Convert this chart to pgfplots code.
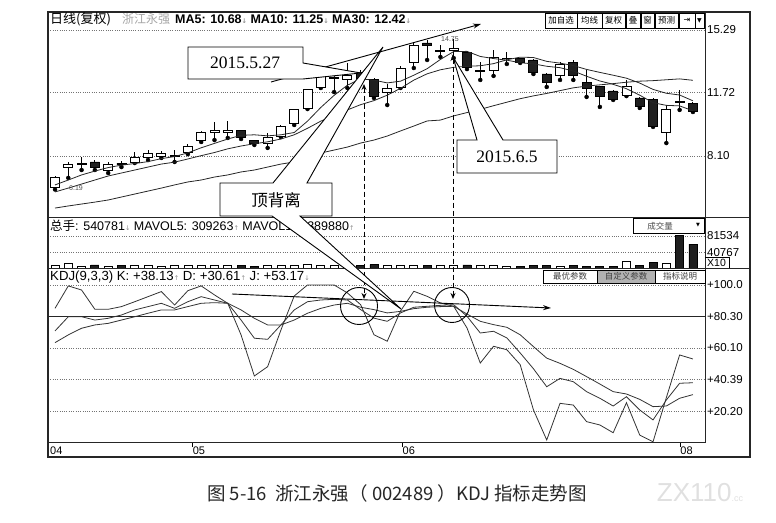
\documentclass[border=0pt]{standalone}
\usepackage{fontspec}
\setmainfont{Liberation Sans}
\newfontfamily\cjk{Noto Sans CJK SC}
\newfontfamily\rmnum{Liberation Serif}
\newfontfamily\dv{DejaVu Sans}
\usepackage{pgfplots}
\pgfplotsset{compat=1.18}
\usepackage{pgfplotstable}
\usetikzlibrary{arrows.meta}

\newcommand\up{{\dv\fontsize{6.5}{6.5}\selectfont\color{black!45}↑}}
\newcommand\dn{{\dv\fontsize{6.5}{6.5}\selectfont\color{black!45}↓}}

\pgfplotstableread{
i o h l c ma5 ma10 ma30
0 6.33 6.96 6.19 6.90 6.45 6.05 5.13
1 7.42 7.76 6.85 7.59 6.73 6.27 5.25
2 7.64 8.04 7.30 7.70 7.02 6.50 5.36
3 7.76 7.87 7.30 7.42 7.24 6.73 5.47
4 7.30 7.76 7.13 7.59 7.44 6.96 5.59
5 7.70 7.82 7.47 7.59 7.58 7.13 5.76
6 7.76 8.33 7.70 8.04 7.67 7.30 5.93
7 8.04 8.44 7.87 8.27 7.78 7.47 6.10
8 8.10 8.39 7.99 8.27 7.95 7.64 6.27
9 8.10 8.44 7.76 8.16 8.07 7.75 6.45
10 8.33 8.79 8.21 8.67 8.28 7.93 6.62
11 8.96 9.53 8.90 9.47 8.57 8.12 6.73
12 9.47 10.04 9.01 9.53 8.82 8.30 6.90
13 9.47 10.10 9.13 9.53 9.07 8.51 7.02
14 9.53 9.58 9.07 9.18 9.28 8.67 7.19
15 8.96 9.01 8.73 8.84 9.31 8.80 7.30
16 8.79 9.41 8.56 9.18 9.25 8.91 7.47
17 9.24 9.87 9.18 9.81 9.31 9.07 7.64
18 9.93 10.78 9.87 10.73 9.44 9.31 7.76
19 10.84 11.92 10.78 11.87 10.09 9.68 7.99
20 12.04 12.84 11.98 12.78 10.87 10.09 8.27
21 12.55 12.84 11.75 12.61 11.56 10.41 8.44
22 12.44 13.41 11.98 12.72 12.14 10.73 8.61
23 12.89 13.01 12.44 12.55 12.50 11.03 8.84
24 12.44 12.55 11.41 11.47 12.43 11.26 9.01
25 11.75 12.21 11.01 11.98 12.27 11.57 9.24
26 12.04 13.24 11.98 13.12 12.37 11.96 9.53
27 13.41 14.61 13.12 14.43 12.71 12.43 9.81
28 14.55 14.72 13.58 14.38 13.08 12.79 10.10
29 14.09 14.43 13.75 14.15 13.61 13.02 10.15
30 14.15 14.75 13.69 14.21 14.06 13.16 10.39
31 14.03 14.09 13.06 13.18 14.07 13.22 10.58
32 12.95 13.46 12.44 13.01 13.78 13.25 10.76
33 13.01 14.15 12.67 13.75 13.66 13.37 10.97
34 13.64 14.03 13.35 13.69 13.57 13.59 11.17
35 13.64 13.69 13.41 13.46 13.42 13.74 11.37
36 13.58 13.64 12.78 12.89 13.36 13.72 11.53
37 12.78 12.84 12.04 12.32 13.22 13.50 11.67
38 12.72 13.46 12.44 13.35 13.14 13.40 11.83
39 13.46 13.58 12.44 12.72 12.95 13.26 11.99
40 12.27 13.01 11.47 11.98 12.65 13.04 12.09
41 12.09 12.09 10.90 11.52 12.38 12.87 12.16
42 11.81 11.87 11.30 11.35 12.19 12.71 12.23
43 11.58 12.44 11.52 12.09 11.94 12.54 12.31
44 11.41 11.47 10.84 10.90 11.57 12.26 12.37
45 11.35 11.41 9.76 9.81 11.14 11.90 12.40
46 9.47 11.01 8.84 10.78 10.99 11.68 12.45
47 11.18 11.87 10.73 11.24 10.96 11.58 12.50
48 11.12 11.18 10.61 10.67 10.68 11.25 12.42
}\price

\pgfplotstableread{
i vu vd
0 8000 nan
1 13000 nan
2 6000 nan
3 nan 9000
4 6000 nan
5 nan 7000
6 8000 nan
7 7000 nan
8 6000 nan
9 7000 nan
10 8000 nan
11 9000 nan
12 8000 nan
13 7000 nan
14 nan 8000
15 nan 6000
16 7000 nan
17 8000 nan
18 9000 nan
19 10000 nan
20 9000 nan
21 8000 nan
22 9000 nan
23 nan 8000
24 nan 10000
25 8000 nan
26 8000 nan
27 9000 nan
28 nan 8000
29 7000 nan
30 8000 nan
31 nan 9000
32 7000 nan
33 8000 nan
34 6000 nan
35 nan 6000
36 nan 7000
37 nan 7000
38 6000 nan
39 nan 7000
40 nan 6000
41 nan 6000
42 nan 6000
43 17000 nan
44 nan 7000
45 nan 15000
46 13000 nan
47 nan 82000
48 nan 61000
}\vol

\pgfplotstableread{
i k d j
0 70.9 63.5 85.2
1 79.9 68.4 99.4
2 79.9 72.6 96.8
3 77.8 74.7 84.6
4 78.9 75.7 84.6
5 81.0 77.8 86.3
6 84.2 79.9 89.4
7 86.3 82.1 92.6
8 88.4 84.2 95.8
9 85.2 84.2 87.3
10 89.4 86.3 96.4
11 92.6 88.4 99.4
12 90.5 88.8 93.7
13 88.4 88.4 88.4
14 77.8 84.2 68.4
15 66.3 78.9 42.4
16 65.6 74.7 48.3
17 74.7 74.7 71.5
18 84.2 77.8 93.0
19 89.4 82.1 100.0
20 90.5 85.2 100.0
21 90.9 87.3 100.0
22 90.5 88.4 95.0
23 84.4 85.9 87.5
24 79.0 84.4 68.5
25 77.0 82.3 64.4
26 82.3 83.3 83.5
27 85.9 85.0 96.0
28 86.5 85.9 92.8
29 87.1 86.3 88.6
30 87.5 86.5 86.5
31 80.2 81.6 72.8
32 69.6 77.0 50.6
33 70.7 74.9 61.2
34 66.5 73.2 59.0
35 57.0 68.5 49.6
36 47.0 61.0 21.0
37 35.6 53.7 1.9
38 40.9 50.4 25.1
39 38.8 46.6 24.0
40 32.5 42.0 13.5
41 28.3 37.3 11.4
42 23.4 32.5 6.5
43 29.3 31.0 25.5
44 20.9 27.6 5.0
45 14.6 23.0 0.8
46 27.2 23.4 28.7
47 37.8 28.3 55.7
48 38.13 30.61 53.17
}\kdj

\pgfplotsset{
  panel/.style={scale only axis, width=657pt, xmin=-0.527, xmax=48.91,
    anchor=south west, axis line style={draw=none}, xtick=\empty, ytick=\empty,
    major tick length=0pt, scaled y ticks=false,
    grid style={black!55, dash pattern=on 0.8pt off 1.5pt, line width=0.5pt},
    yticklabel pos=right,
    yticklabel style={anchor=west, inner sep=0pt, xshift=2pt, font=\fontsize{11.5}{12}\selectfont},
  },
  pricepanel/.style={panel, at={(48pt,304pt)}, height=206pt, ymin=4.563, ymax=16.317},
}

\begin{document}
\begin{tikzpicture}
\useasboundingbox (0pt,0pt) rectangle (776pt,522pt);

% ---------- price panel: wicks, grid, labels
\begin{axis}[pricepanel, ytick={8.10,11.72,15.29}, yticklabels={8.10,11.72,15.29}, ymajorgrids]
\addplot[only marks, mark=none, error bars/.cd, y dir=plus, y explicit,
  error bar style={black, line width=0.9pt}, error mark=none]
  table[x=i, y=l, y error expr=\thisrow{h}-\thisrow{l}] {\price};
\end{axis}

% ---------- price panel: candle bodies
\begin{axis}[pricepanel, ybar stacked, bar width=9pt]
\addplot[draw=none, fill=none] table[x=i, y expr={min(\thisrow{o},\thisrow{c})}] {\price};
\addplot[draw=black, fill=white, line width=0.9pt] table[x=i, y expr={max(\thisrow{c}-\thisrow{o},0)}] {\price};
\addplot[draw=black, fill=black!88, line width=0.9pt] table[x=i, y expr={max(\thisrow{o}-\thisrow{c},0)}] {\price};
\end{axis}

% ---------- price panel: moving averages
\begin{axis}[pricepanel]
\addplot[black!85, line width=0.8pt, mark=none] table[x=i, y=ma5] {\price};
\addplot[black!85, line width=0.8pt, mark=none] table[x=i, y=ma10] {\price};
\addplot[black!85, line width=0.8pt, mark=none] table[x=i, y=ma30] {\price};
\end{axis}

% ---------- volume panel
\begin{axis}[panel, at={(48pt,253pt)}, height=51pt, ymin=-1250, ymax=126700,
  ytick={40767,81534}, yticklabels={40767,81534}, ymajorgrids]
\addplot[ybar, bar width=8pt, bar shift=0pt, draw=black, fill=white, line width=0.8pt] table[x=i, y=vu] {\vol};
\addplot[ybar, bar width=8pt, bar shift=0pt, draw=black, fill=black!88, line width=0.8pt] table[x=i, y=vd] {\vol};
\end{axis}

% ---------- KDJ panel
\begin{axis}[panel, at={(48pt,79pt)}, height=174pt, ymin=0, ymax=110.1,
  ytick={20.2,40.39,60.1,100}, yticklabels={+20.20,+40.39,+60.10,+100.0}, ymajorgrids,
  extra y ticks={80.3}, extra y tick labels={+80.30},
  extra y tick style={grid style={solid, black!85, line width=0.9pt}},
  xtick={-0.38,10.35,26.15,47.05}, xticklabels={04,05,06,08},
  xticklabel style={anchor=north west, inner sep=0pt, yshift=-3.5pt, font=\fontsize{11}{12}\selectfont}]
\addplot[black!80, line width=0.8pt, mark=none] table[x=i, y=d] {\kdj};
\addplot[black!80, line width=0.8pt, mark=none] table[x=i, y=k] {\kdj};
\addplot[black!80, line width=0.8pt, mark=none] table[x=i, y=j] {\kdj};
\end{axis}

% ---------- overlay in image coordinates (x right, y down)
\begin{scope}[x=1pt, y=-1pt, shift={(0pt,522pt)}]
  % frame
  \draw[line width=1.2pt, black!85] (48,12) rectangle (750,457);
  \draw[line width=1pt, black!85] (705,12) -- (705,443);
  \draw[line width=1pt, black!85] (48,218) -- (750,218);
  \draw[line width=1pt, black!85] (48,269) -- (750,269);
  \draw[line width=1pt, black!85] (48,443) -- (705,443);
  \foreach \xx in {192,402,680} \draw[line width=0.8pt] (\xx,443) -- (\xx,447);
  % X10 box
  \draw[line width=0.7pt] (705,257) -- (729,257) -- (729,268);
  \node[anchor=west, inner sep=0pt, font=\fontsize{10.5}{11}\selectfont] at (707,263) {X10};

  % header texts
  \node[anchor=west, inner sep=0pt, font=\cjk\fontsize{13}{14}\selectfont] at (50,19) {日线(复权)};
  \node[anchor=west, inner sep=0pt, font=\cjk\fontsize{12}{13}\selectfont, text=black!35] at (122,19) {浙江永强};
  \node[anchor=west, inner sep=0pt, font=\bfseries\fontsize{12.5}{13}\selectfont] at (175,19)
    {MA5: 10.68\dn{} MA10: 11.25\dn{} MA30: 12.42\dn};
  \node[anchor=west, inner sep=0pt, font=\fontsize{12.5}{13}\selectfont] at (50,226)
    {{\cjk 总手}: 540781\dn{} MAVOL5: 309263\up{} MAVOL10: 389880\up};
  \node[anchor=west, inner sep=0pt, font=\fontsize{13.2}{14}\selectfont] at (50,277)
    {KDJ(9,3,3) K: +38.13\up{} D: +30.61\up{} J: +53.17\dn};
  \node[inner sep=0pt, font=\fontsize{7}{7}\selectfont, text=black!70] at (450,39) {14.75};
  \node[inner sep=0pt, font=\fontsize{7}{7}\selectfont, text=black!70] at (76,188) {6.19};

  % top-right buttons
  \begin{scope}[line width=0.6pt, font=\cjk\fontsize{8.5}{9}\selectfont]
    \draw (545,13) rectangle (577,28); \node at (561,20.5) {加自选};
    \draw (577,13) rectangle (602,28); \node at (589.5,20.5) {均线};
    \draw (602,13) rectangle (625,28); \node at (613.5,20.5) {复权};
    \draw (626,13) rectangle (640,28); \node at (633,20.5) {叠};
    \draw (641,13) rectangle (654,28); \node at (647.5,20.5) {窗};
    \draw (655,13) rectangle (678,28); \node at (666.5,20.5) {预测};
    \draw (679,13) rectangle (695,28); \node[font=\dv\fontsize{8}{8}\selectfont] at (687,20.5) {⇥};
    \draw (695,13) rectangle (704,28); \node[font=\dv\fontsize{6}{6}\selectfont] at (699.5,20.5) {▼};
    % volume dropdown
    \filldraw[fill=white] (633,218) rectangle (704,233);
    \node[text=black!70] at (660,226) {成交量};
    \node[font=\dv\fontsize{5}{5}\selectfont] at (698,225) {▼};
    % KDJ buttons
    \filldraw[fill=white] (543,270) rectangle (597,283); \node[text=black!75] at (570,276.5) {最优参数};
    \filldraw[fill=black!30] (597,270) rectangle (655,283); \node[text=black!75] at (626,276.5) {自定义参数};
    \filldraw[fill=white] (655,270) rectangle (705,283); \node[text=black!75] at (680,276.5) {指标说明};
  \end{scope}

  % trend arrows
  \draw[line width=0.9pt, -{Stealth[length=8pt, width=5pt]}] (271,82) -- (481,24);
  \draw[line width=0.9pt, -{Stealth[length=8pt, width=5pt]}] (232,294) -- (551,308);
  % dashed verticals
  \draw[line width=1pt, dash pattern=on 5pt off 3pt, {Stealth[length=6pt,width=5pt]}-{Stealth[length=6pt,width=5pt]}] (364,84) -- (364,299);
  \draw[line width=1pt, dash pattern=on 5pt off 3pt, {Stealth[length=6pt,width=5pt]}-{Stealth[length=6pt,width=5pt]}] (453,55) -- (453,299);
  % circles
  \draw[line width=0.9pt] (359,306) circle (18.5pt);
  \draw[line width=0.9pt] (452,305) circle (17.5pt);

  % callouts
  \filldraw[fill=white, draw=black, line width=0.9pt]
    (188,47) -- (303,47) -- (303,63) -- (361,73) -- (303,79) -- (188,79) -- cycle;
  \node[font=\rmnum\fontsize{17.5}{17.5}\selectfont] at (245,63) {2015.5.27};
  \filldraw[fill=white, draw=black, line width=0.9pt]
    (457,140) -- (477,140) -- (453,57) -- (503,140) -- (557,140) -- (557,173) -- (457,173) -- cycle;
  \node[font=\rmnum\fontsize{17.5}{17.5}\selectfont] at (507,157) {2015.6.5};
  \filldraw[fill=white, draw=black, line width=0.9pt]
    (220,183) -- (273,183) -- (383,47) -- (307,183) -- (332,183) -- (332,216)
    -- (300,216) -- (401,309) -- (272,216) -- (220,216) -- cycle;
  \node[font=\cjk\fontsize{16.5}{16.5}\selectfont] at (276,200) {顶背离};

  % caption and watermark
  \node[font=\cjk\fontsize{18.5}{18.5}\selectfont, text=black!85] at (397,493)
    {图 5-16\ \ 浙江永强（ 002489 ）KDJ 指标走势图};
  \node[font=\fontsize{26}{26}\selectfont, text=black!12] at (700,493) {ZX110{\fontsize{9}{9}\selectfont .cc}};
\end{scope}
\end{tikzpicture}
\end{document}
